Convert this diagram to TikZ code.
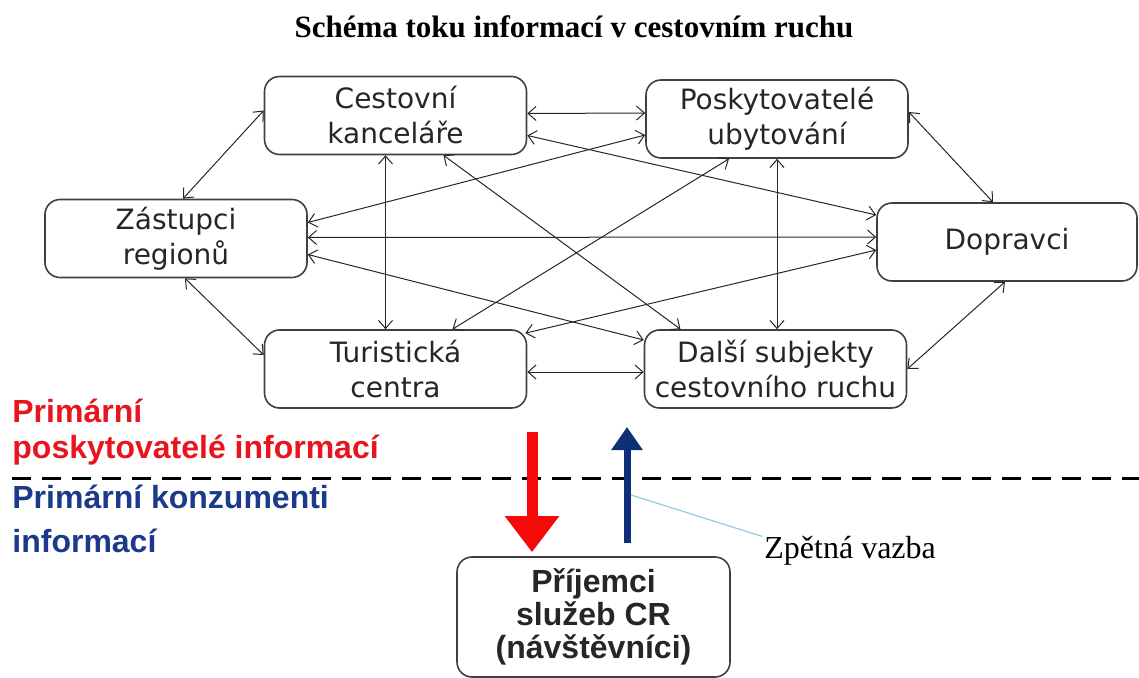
\documentclass[tikz,border=0pt]{standalone}
\usepackage{fontspec}
\setmainfont{Liberation Serif}
\newfontfamily\boxfont{DejaVu Sans}
\newfontfamily\labelfont{Liberation Sans}
\usepackage{tikz}
\usetikzlibrary{calc, arrows.meta}

\definecolor{provred}{HTML}{E8141E}
\definecolor{consblue}{HTML}{1B3A8A}
\definecolor{arrowred}{HTML}{F50A0A}
\definecolor{arrowblue}{HTML}{0F2F78}
\definecolor{fbline}{HTML}{8CCFD8}

\begin{document}
\begin{tikzpicture}[x=0.5pt, y=-0.5pt,
    box/.style={draw=black!75, line width=0.8pt, rounded corners=7.5pt, align=center,
        minimum width=131pt, minimum height=39pt, inner sep=0pt,
        font=\boxfont\fontsize{14}{17.5}\selectfont, text=black!85},
    link/.style={<->, >={Straight Barb[length=4pt,width=7pt]}, line width=0.5pt, black!85},
    sidelabel/.style={anchor=base west, inner sep=0pt, align=left}]

    \useasboundingbox (0,0) rectangle (1139,678);

    \node[anchor=base, font=\bfseries\fontsize{15.5}{18}\selectfont] (title) at (574,38)
        {Schéma toku informací v cestovním ruchu};

    \node[box] (ck) at (395.5,115.5) {Cestovní\\kanceláře};
    \node[box] (pu) at (777,119) {Poskytovatelé\\ubytování};
    \node[box] (zr) at (176,238.5) {Zástupci\\regionů};
    \node[box, minimum width=130pt] (dop) at (1007,242) {Dopravci};
    \node[box] (tc) at (395.5,369) {Turistická\\centra};
    \node[box] (ds) at (775.5,369) {Další subjekty\\cestovního ruchu};
    \node[box, minimum width=136.5pt, minimum height=60pt,
        font=\labelfont\bfseries\fontsize{16}{16.5}\selectfont] (pr) at (593.5,617)
        {Příjemci\\služeb CR\\(návštěvníci)};

    \draw[link] ($(zr.north)+(7,0)$) -- ($(ck.west)+(0,-5)$);
    \draw[link] ($(zr.south)+(9,0)$) -- ($(tc.west)+(0,-14)$);
    \draw[link] ($(ck.east)+(0,-2)$) -- ($(pu.west)+(0,-6)$);
    \draw[link] ($(ck.east)+(0,20)$) -- ($(dop.west)+(0,-27)$);
    \draw[link] ($(pu.west)+(0,16)$) -- ($(zr.east)+(0,-16)$);
    \draw[link] ($(ck.south)+(-10,0)$) -- ($(tc.north)+(-10,0)$);
    \draw[link] ($(ck.south)+(48,0)$) -- ($(ds.north)+(-95,0)$);
    \draw[link] ($(zr.east)+(0,-1)$) -- ($(dop.west)+(0,-5)$);
    \draw[link] ($(zr.east)+(0,16)$) -- ($(ds.west)+(0,-29)$);
    \draw[link] ($(tc.north)+(57,0)$) -- ($(pu.south)+(-48,0)$);
    \draw[link] ($(tc.north east)+(-2,4)$) -- ($(dop.west)+(0,8)$);
    \draw[link] (pu.south) -- (pu.south |- ds.north);
    \draw[link] ($(tc.east)+(0,3)$) -- ($(ds.west)+(0,3)$);
    \draw[link] ($(pu.east)+(0,-7)$) -- ($(dop.north)+(-14,0)$);
    \draw[link] (ds.east) -- ($(dop.south)+(-2,0)$);

    \node[sidelabel, text=provred, font=\labelfont\bfseries\fontsize{16}{18}\selectfont] (prov) at (12,458)
        {Primární\\poskytovatelé informací};
    \node[sidelabel, text=consblue, font=\labelfont\bfseries\fontsize{16}{22}\selectfont] (cons) at (12,552)
        {Primární konzumenti\\informací};

    \draw[line width=1.5pt, dash pattern=on 9.5pt off 5.5pt] (12,478) -- (1139,478);

    \coordinate (redtop) at (532,432);
    \coordinate (bluebot) at (627,543);
    \coordinate (bluetop) at (627,427);
    \coordinate (fbstart) at (631,495);

    \draw[arrowred, line width=5.5pt, -{Triangle[length=18pt,width=26pt]}]
        (redtop) -- ($(redtop |- pr.north)+(0,-4)$);
    \draw[arrowblue, line width=3.5pt, -{Triangle[length=11.5pt,width=15pt]}]
        (bluebot) -- (bluetop);

    \node[anchor=base west, inner sep=0pt, font=\fontsize{16}{19}\selectfont] (fb) at (764,558) {Zpětná vazba};
    \draw[fbline, line width=0.6pt] (fbstart) -- ($(fb.north west)+(-2,1)$);

\end{tikzpicture}
\end{document}
